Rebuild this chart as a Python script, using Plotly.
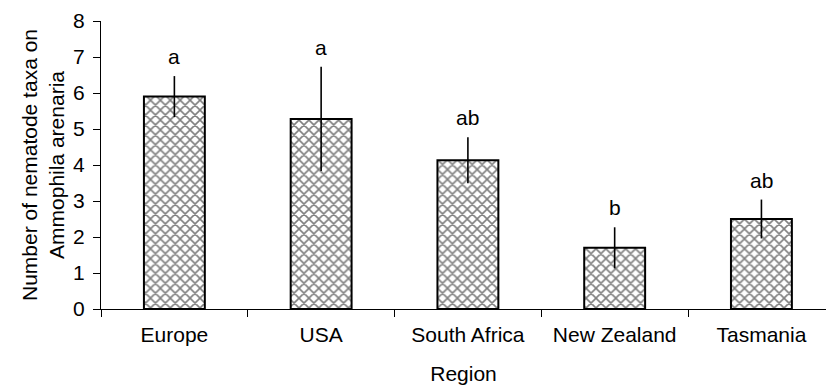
import plotly.graph_objects as go

regions = ["Europe", "USA", "South Africa", "New Zealand", "Tasmania"]
mean_taxa = [5.90, 5.28, 4.13, 1.70, 2.50]
se_taxa = [0.57, 1.45, 0.64, 0.57, 0.54]
letters = ["a", "a", "ab", "b", "ab"]

FONT = "Arial, 'Liberation Sans', sans-serif"

fig = go.Figure()
fig.add_trace(go.Bar(
    x=regions, y=mean_taxa,
    width=0.415,
    marker=dict(
        color="white",
        line=dict(color="black", width=2),
        pattern=dict(shape="x", size=7, solidity=0.4, fgcolor="black", bgcolor="white"),
    ),
    error_y=dict(type="data", array=se_taxa, visible=True, color="black", thickness=1.6, width=0),
    showlegend=False,
))

for r, m, s, lab in zip(regions, mean_taxa, se_taxa, letters):
    fig.add_annotation(x=r, y=m + s, text=lab, showarrow=False, yanchor="bottom",
                       yshift=6, font=dict(size=21, color="black", family=FONT))

fig.update_layout(
    width=826, height=385,
    margin=dict(l=101, r=0, t=21, b=76),
    plot_bgcolor="white", paper_bgcolor="white",
    font=dict(family=FONT, size=21, color="black"),
    xaxis=dict(
        type="category", range=[-0.5, 4.44],
        showline=True, linecolor="black", linewidth=1.3,
        ticks="outside", tickson="boundaries", ticklen=7, tickcolor="black", tickwidth=1,
        showgrid=False, zeroline=False,
        ticklabelstandoff=7,
        title=dict(text="Region", standoff=20, font=dict(size=21)),
        tickfont=dict(size=21),
    ),
    yaxis=dict(
        range=[0, 8], dtick=1, tick0=0,
        showline=True, linecolor="black", linewidth=1.3,
        ticks="outside", ticklen=7, tickcolor="black", tickwidth=1,
        showgrid=False, zeroline=False,
        ticklabelstandoff=4,
        title=dict(text="Number of nematode taxa on<br>Ammophila arenaria", standoff=2, font=dict(size=21)),
        tickfont=dict(size=21),
    ),
)

fig.write_html("out.html")
